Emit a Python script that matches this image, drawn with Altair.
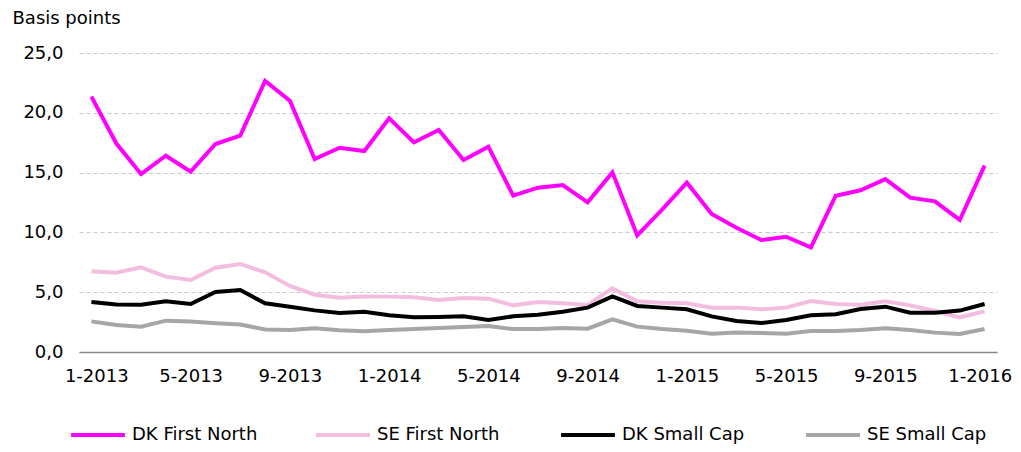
import altair as alt
import pandas as pd

months = [f"{m}-{y}" for y in (2013, 2014, 2015) for m in range(1, 13)] + ["1-2016"]

dk_first_north = [21.35, 17.45, 14.88, 16.41, 15.08, 17.39, 18.09, 22.66, 21.01, 16.14,
                  17.08, 16.80, 19.54, 17.53, 18.56, 16.05, 17.17, 13.07, 13.74, 13.96,
                  12.51, 15.02, 9.75, 11.90, 14.16, 11.54, 10.39, 9.36, 9.64, 8.75,
                  13.07, 13.52, 14.46, 12.90, 12.60, 11.04, 15.58]
se_first_north = [6.75, 6.63, 7.08, 6.30, 6.02, 7.05, 7.36, 6.66, 5.52, 4.79,
                  4.54, 4.65, 4.63, 4.57, 4.35, 4.52, 4.46, 3.90, 4.18, 4.07,
                  3.93, 5.32, 4.24, 4.12, 4.07, 3.71, 3.71, 3.57, 3.71, 4.26,
                  4.01, 3.96, 4.24, 3.90, 3.43, 2.90, 3.40]
dk_small_cap = [4.18, 3.98, 3.96, 4.24, 4.01, 5.02, 5.18, 4.07, 3.79, 3.48,
                3.26, 3.37, 3.07, 2.90, 2.93, 2.98, 2.68, 2.98, 3.12, 3.37,
                3.71, 4.65, 3.85, 3.71, 3.57, 2.98, 2.59, 2.42, 2.68, 3.07,
                3.15, 3.60, 3.79, 3.29, 3.29, 3.46, 4.01]
se_small_cap = [2.56, 2.26, 2.12, 2.62, 2.54, 2.40, 2.29, 1.89, 1.84, 1.98,
                1.81, 1.73, 1.84, 1.92, 2.01, 2.09, 2.17, 1.92, 1.92, 2.01,
                1.95, 2.73, 2.12, 1.92, 1.78, 1.53, 1.64, 1.59, 1.53, 1.76,
                1.76, 1.84, 1.98, 1.84, 1.62, 1.50, 1.92]

series_names = ["DK First North", "SE First North", "DK Small Cap", "SE Small Cap"]
series_values = [dk_first_north, se_first_north, dk_small_cap, se_small_cap]
series_colors = ["#FF00FF", "#F2BDDF", "#000000", "#A6A6A6"]
tick_labels = months[::4]

rows = []
for si, (name, vals) in enumerate(zip(series_names, series_values)):
    for i, (m, v) in enumerate(zip(months, vals)):
        rows.append({"month": m, "value": v, "series": name, "order": si})
df = pd.DataFrame(rows)

FONT = "DejaVu Sans"

chart = alt.Chart(df).mark_line(strokeWidth=4, strokeCap="butt", strokeJoin="miter").encode(
    x=alt.X("month:O", sort=months,
            scale=alt.Scale(type="point", padding=0.5),
            axis=alt.Axis(title=None, values=tick_labels, labelAngle=0, ticks=False,
                          labelPadding=15, labelFontSize=18, labelFont=FONT,
                          labelColor="#000000", domainColor="#868686", domainWidth=1.5,
                          labelOverlap=False, labelBound=False,
                          labelFlush=13, labelFlushOffset=27,
                          grid=False)),
    y=alt.Y("value:Q",
            scale=alt.Scale(domain=[0, 25], nice=False),
            axis=alt.Axis(title="Basis points", titleAngle=0, titleAlign="left",
                          titleBaseline="middle", titleX=-67, titleY=-35,
                          titleFont=FONT, titleFontSize=18, titleFontWeight="normal",
                          titleColor="#000000",
                          values=[0, 5, 10, 15, 20, 25], ticks=False, domain=False,
                          labelExpr="replace(format(datum.value, '.1f'), '.', ',')",
                          labelFontSize=18, labelFont=FONT, labelColor="#000000",
                          labelPadding=16,
                          grid=True, gridDash=[4, 3], gridColor="#C8C8C8", gridWidth=1.2)),
    color=alt.Color("series:N", sort=series_names,
                    scale=alt.Scale(domain=series_names, range=series_colors),
                    legend=alt.Legend(title=None, orient="none", direction="horizontal",
                                      legendX=-10, legendY=353, padding=0,
                                      symbolType="stroke", symbolSize=2900,
                                      symbolStrokeWidth=4, labelFontSize=18,
                                      labelFont=FONT, labelColor="#000000",
                                      labelOffset=5, columnPadding=50, gridAlign="all")),
    order=alt.Order("order:Q"),
    detail="series:N",
).properties(
    width=918, height=299,
    padding={"left": 71, "top": 45, "right": 16, "bottom": 92},
    autosize=alt.AutoSizeParams(type="none"),
).configure_view(stroke=None)

chart.save("out.html", embed_options={"renderer": "svg", "actions": False})
